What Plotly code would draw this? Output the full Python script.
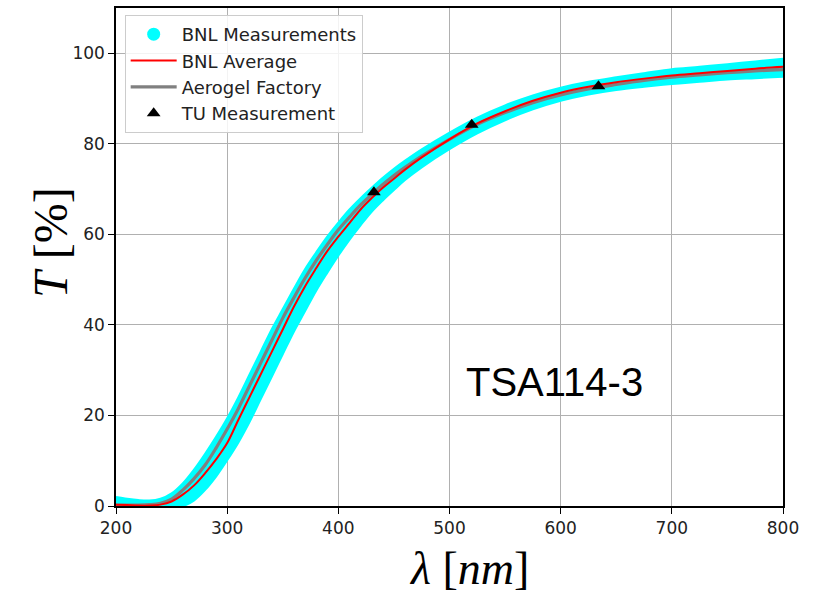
import plotly.graph_objects as go

# wavelength grid (nm)
wl = [200, 210, 220, 230, 240, 250, 260, 270, 280, 290, 300, 310, 320, 330, 340, 350,
      360, 370, 380, 390, 400, 410, 420, 430, 440, 450, 460, 475, 500, 525, 550, 575,
      600, 625, 650, 675, 700, 725, 750, 775, 800]

# BNL average transmittance (%)
bnl_avg = [0.3, 0.2, 0.1, 0.1, 0.3, 1.0, 2.5, 4.5, 7.2, 10.3, 13.9, 19.0, 24.0, 29.0, 34.0, 39.0,
           44.0, 48.5, 52.5, 56.3, 59.5, 62.5, 65.5, 68.0, 70.3, 72.3, 74.3, 77.0, 81.0, 84.5, 87.2, 89.5,
           91.3, 92.6, 93.6, 94.4, 95.1, 95.6, 96.1, 96.6, 97.0]

# Aerogel factory transmittance (%)
factory = [0.2, 0.2, 0.2, 0.3, 0.6, 1.5, 3.5, 6.0, 9.0, 12.8, 17.0, 21.5, 26.5, 31.5, 36.5, 41.5,
           46.0, 50.3, 54.2, 57.7, 61.0, 63.8, 66.5, 68.8, 71.0, 73.0, 74.8, 77.3, 81.0, 84.3, 86.9, 89.1,
           90.8, 92.1, 93.1, 94.0, 94.7, 95.2, 95.7, 96.1, 96.4]

# BNL individual measurements: lower / upper envelope of the measured spread (%)
bnl_meas_low = [0.0, 0.0, 0.0, 0.0, 0.0, 0.0, 0.0, 1.2, 3.5, 6.5, 10.1, 14.0, 18.5, 23.5, 28.5, 33.5,
                38.5, 43.0, 47.5, 51.5, 55.3, 58.8, 62.0, 65.0, 67.5, 69.8, 72.0, 74.8, 78.8, 82.3, 85.2, 87.6,
                89.5, 90.9, 91.9, 92.6, 93.2, 93.7, 94.2, 94.5, 94.8]
bnl_meas_high = [2.0, 1.6, 1.3, 1.2, 1.6, 2.8, 5.0, 8.0, 11.5, 15.3, 19.4, 24.0, 29.0, 34.0, 39.0, 43.5,
                 48.0, 52.3, 56.0, 59.5, 62.6, 65.5, 68.0, 70.3, 72.5, 74.5, 76.3, 78.8, 82.5, 85.8, 88.5, 90.7,
                 92.4, 93.7, 94.7, 95.6, 96.5, 97.0, 97.6, 98.2, 98.8]

# TU measurements
tu_wl = [432, 520, 634]
tu_T = [69.3, 84.2, 92.7]

x_ticks = [200, 300, 400, 500, 600, 700, 800]
y_ticks = [0, 20, 40, 60, 80, 100]

CYAN = "#00ffff"
fig = go.Figure()

# measurement band
fig.add_trace(go.Scatter(x=wl, y=bnl_meas_low, mode="lines", line=dict(color=CYAN, width=2, shape="spline"),
                         showlegend=False, hoverinfo="skip"))
fig.add_trace(go.Scatter(x=wl, y=bnl_meas_high, mode="lines", line=dict(color=CYAN, width=2, shape="spline"),
                         fill="tonexty", fillcolor=CYAN, showlegend=False, hoverinfo="skip"))
# legend entry for measurements
fig.add_trace(go.Scatter(x=[None], y=[None], mode="markers", name="BNL Measurements",
                         marker=dict(color=CYAN, size=13, symbol="circle"), legendrank=1))

fig.add_trace(go.Scatter(x=wl, y=factory, mode="lines", name="Aerogel Factory",
                         line=dict(color="#808080", width=3.2, shape="spline"), legendrank=3))
fig.add_trace(go.Scatter(x=wl, y=bnl_avg, mode="lines", name="BNL Average",
                         line=dict(color="#ff0000", width=2, shape="spline"), legendrank=2))
fig.add_trace(go.Scatter(x=tu_wl, y=tu_T, mode="markers", name="TU Measurement",
                         marker=dict(color="black", size=12, symbol="triangle-up"), legendrank=4))

axis_common = dict(showline=True, linecolor="black", linewidth=1.5, mirror=True,
                   ticks="outside", ticklen=6, tickwidth=1.2, tickcolor="black",
                   showgrid=True, gridcolor="#b0b0b0", gridwidth=1, zeroline=False,
                   tickfont=dict(family="DejaVu Sans", size=17, color="#222222"))

fig.update_xaxes(range=[200, 800], tickvals=x_ticks, ticktext=[str(v) for v in x_ticks], **axis_common)
fig.update_yaxes(range=[0, 110], tickvals=y_ticks, ticktext=[str(v) for v in y_ticks], **axis_common)

fig.add_annotation(x=0.5, y=0, xref="paper", yref="paper", xanchor="center", yanchor="top",
                   yshift=-35, xshift=19, text="<i>λ</i> [<i>nm</i>]", showarrow=False,
                   font=dict(family="Liberation Serif", size=46, color="black"))
fig.add_annotation(x=0, y=0.5, xref="paper", yref="paper", xanchor="center", yanchor="middle",
                   xshift=-66, yshift=14, text="<i>T</i> [%]", textangle=-90, showarrow=False,
                   font=dict(family="Liberation Serif", size=48, color="black"))
fig.add_annotation(x=594, y=27.5, xref="x", yref="y", text="TSA114-3", showarrow=False,
                   xanchor="center", yanchor="middle",
                   font=dict(family="Liberation Sans", size=40, color="black"))

fig.update_layout(
    width=815, height=597,
    margin=dict(l=116, r=32, t=6, b=91),
    paper_bgcolor="white", plot_bgcolor="white",
    showlegend=True,
    legend=dict(x=0.013, y=0.986, xanchor="left", yanchor="top", traceorder="normal",
                bgcolor="rgba(255,255,255,0.85)", bordercolor="#cccccc", borderwidth=1,
                font=dict(family="DejaVu Sans", size=18, color="#222222"),
                itemwidth=46, tracegroupgap=0),
)

fig.write_html("out.html", config={"displayModeBar": False},
               post_script="document.body.style.margin='0px';")
